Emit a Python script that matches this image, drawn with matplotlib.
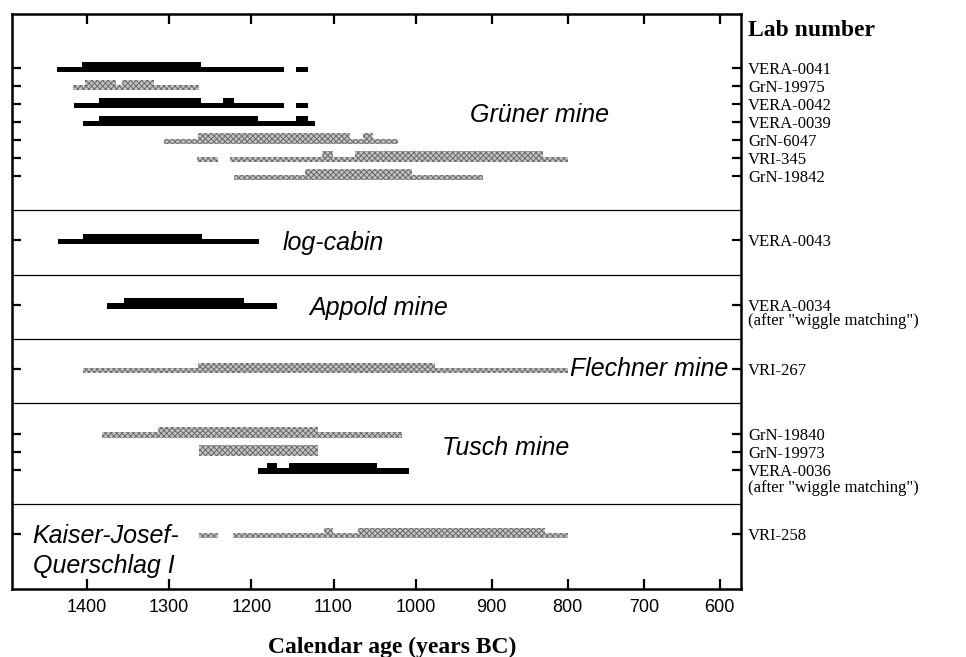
import numpy as np
import matplotlib.pyplot as plt
from matplotlib.ticker import NullLocator
import matplotlib.transforms as mtransforms

plt.rcParams['hatch.linewidth'] = 0.7

# -----------------------------
# data (calendar ages, years BC)
# -----------------------------
SITES = ["Grüner mine", "log-cabin", "Appold mine", "Flechner mine",
         "Tusch mine", "Kaiser-Josef-"]
SITE_SIZES = [7, 1, 1, 1, 3, 1]

LAB_NUMBERS = ["VERA-0041", "GrN-19975", "VERA-0042", "VERA-0039", "GrN-6047",
               "VRI-345", "GrN-19842", "VERA-0043", "VERA-0034", "VRI-267",
               "GrN-19840", "GrN-19973", "VERA-0036", "VRI-258"]

# 2 sigma ranges (thin bars)
RANGE_2S = [
    [(1436, 1160), (1146, 1131)],
    [(1417, 1263)],
    [(1416, 1160), (1146, 1131)],
    [(1405, 1122)],
    [(1306, 1022)],
    [(1266, 1241), (1226, 800)],
    [(1221, 912)],
    [(1435, 1191)],
    [(1376, 1169)],
    [(1405, 800)],
    [(1382, 1017)],
    [(1264, 1119)],
    [(1192, 1008)],
    [(1263, 1241), (1222, 800)],
]

# 1 sigma ranges (thick bars)
RANGE_1S = [
    [(1406, 1261)],
    [(1402, 1365), (1357, 1318)],
    [(1385, 1261), (1235, 1221)],
    [(1385, 1192), (1146, 1131)],
    [(1265, 1080), (1064, 1052)],
    [(1114, 1101), (1074, 833)],
    [(1135, 1005)],
    [(1405, 1260)],
    [(1355, 1209)],
    [(1265, 975)],
    [(1314, 1119)],
    [(1264, 1119)],
    [(1181, 1169), (1154, 1047)],
    [(1111, 1101), (1070, 830)],
]

XTICKS = [1400, 1300, 1200, 1100, 1000, 900, 800, 700, 600]

# -----------------------------
# layout of the rows
# -----------------------------
TOP_PAD, PAD_ABOVE, PAD_BELOW, BOTTOM_PAD = 3.0, 1.68, 1.9, 3.05

rows, seps, first_rows = [], [], []
y = TOP_PAD
for i, n in enumerate(SITE_SIZES):
    if i > 0:
        y = seps[-1] + PAD_ABOVE
    first_rows.append(y)
    rows += [y + k for k in range(n)]
    seps.append(rows[-1] + PAD_BELOW)
ymax = rows[-1] + BOTTOM_PAD
seps = seps[:-1]

# the time axis of the original is not evenly spaced
# (1400-1000 is a bit wider than 1000-600), so map it piecewise
YR = np.array([0.0, 600.0, 1000.0, 1400.0, 2000.0])
PX = np.array([-1176.0, -720.0, -416.0, -87.0, 406.5])


def fwd(x):
    return np.interp(x, YR, PX)


def inv(v):
    return np.interp(v, PX, YR)


fig = plt.figure(figsize=(9.66, 6.57), dpi=100)
ax = fig.add_axes([12 / 966, 68 / 657, 729 / 966, 575 / 657])
ax.set_xscale('function', functions=(fwd, inv))

for i, lab in enumerate(LAB_NUMBERS):
    ams = lab.startswith("VERA")
    kw = dict(facecolor='black', edgecolor='none') if ams else \
        dict(facecolor='#c4c4c4', edgecolor='#6a6a6a', hatch='xxxxxx', linewidth=0)
    r = rows[i]
    thin = [(min(a, b), abs(a - b)) for a, b in RANGE_2S[i]]
    thick = [(min(a, b), abs(a - b)) for a, b in RANGE_1S[i]]
    ax.broken_barh(thin, (r - 0.08, 0.30), **kw)
    ax.broken_barh(thick, (r - 0.36, 0.56), **kw)

for s in seps:
    ax.axhline(s, color='black', lw=0.9)

# site names
SITE_X = [929, 1162, 1129, 797, 966, 1466]
SITE_DY = [3.0, 0.53, 0.56, 0.35, 1.18, 0.49]
for name, fr, x, dy in zip(SITES, first_rows, SITE_X, SITE_DY):
    ax.text(x, fr + dy, name, fontsize=18, style='italic', family='Liberation Sans',
            ha='left', va='baseline')
ax.text(SITE_X[-1], first_rows[-1] + SITE_DY[-1] + 1.67, "Querschlag I", fontsize=18,
        style='italic', family='Liberation Sans', ha='left', va='baseline')

ax.set_xlim(1491, 572)
ax.set_ylim(ymax, 0)
ax.set_xticks(XTICKS)
ax.set_xticklabels([str(t) for t in XTICKS], family='Liberation Sans', fontsize=13)
ax.xaxis.set_minor_locator(NullLocator())
ax.set_yticks(rows)
ax.set_yticklabels(LAB_NUMBERS, family='Liberation Serif', fontsize=12)
ax.tick_params(axis='x', direction='in', length=7, width=1.6, top=True, pad=7)
ax.tick_params(axis='y', direction='in', length=6.5, width=1.6, left=True, right=True,
               labelleft=False, labelright=True, pad=5)
for sp in ax.spines.values():
    sp.set_linewidth(1.8)

trans = mtransforms.blended_transform_factory(ax.transAxes, ax.transData)
for i in (LAB_NUMBERS.index("VERA-0034"), LAB_NUMBERS.index("VERA-0036")):
    dy = 0.9 if LAB_NUMBERS[i] == "VERA-0034" else 1.0
    ax.text(1 + 7 / 729, rows[i] + dy, '(after "wiggle matching")', transform=trans,
            family='Liberation Serif', fontsize=12, ha='left', va='center')

fig.text(748 / 966, 1 - 36 / 657, "Lab number", family='Liberation Serif',
         fontsize=17, fontweight='bold', ha='left', va='baseline')
fig.text(392 / 966, 4 / 657, "Calendar age (years BC)", family='Liberation Serif',
         fontsize=17, fontweight='bold', ha='center', va='baseline')

fig.savefig("out.png", dpi=100)
